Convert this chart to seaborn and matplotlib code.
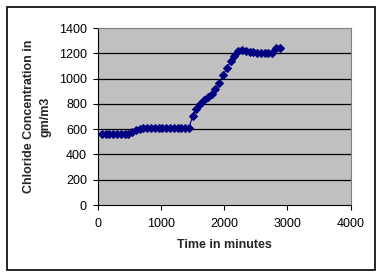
import matplotlib
matplotlib.use("Agg")
import matplotlib.pyplot as plt
import seaborn as sns
import pandas as pd
from matplotlib.patches import Rectangle

time_min = [60, 120, 180, 240, 300, 360, 420, 480, 540, 600, 660, 720, 780, 840,
            900, 960, 1020, 1080, 1140, 1200, 1260, 1320, 1380, 1440, 1500, 1560,
            1620, 1680, 1740, 1800, 1860, 1920, 1980, 2040, 2100, 2160, 2220, 2280,
            2340, 2400, 2460, 2520, 2580, 2640, 2700, 2760, 2820, 2880]
chloride = [560, 560, 560, 560, 560, 560, 560, 562, 578, 592, 602, 606, 607, 607,
            607, 607, 607, 607, 607, 607, 607, 607, 607, 607, 705, 761,
            798, 827, 856, 875, 919, 964, 1025, 1083, 1136, 1181, 1218, 1223,
            1220, 1213, 1210, 1205, 1202, 1202, 1202, 1202, 1239, 1242]

x_ticks = [0, 1000, 2000, 3000, 4000]
y_ticks = [0, 200, 400, 600, 800, 1000, 1200, 1400]

df = pd.DataFrame({"time": time_min, "cl": chloride})

sns.set_style("white")
plt.rcParams["font.family"] = ["Liberation Sans", "DejaVu Sans"]

fig = plt.figure(figsize=(3.85, 2.79), dpi=100)
fig.patches.append(Rectangle((7 / 385, 1 - 270 / 279), 368 / 385, 263 / 279,
                             transform=fig.transFigure, fill=False,
                             edgecolor="black", linewidth=1.2))
ax = fig.add_axes([98 / 385, 1 - 205 / 279, 252.5 / 385, 177 / 279])
ax.set_facecolor("#c0c0c0")

for yv in y_ticks[1:-1]:
    ax.axhline(yv, color="black", linewidth=0.9, zorder=1)

sns.lineplot(data=df, x="time", y="cl", ax=ax, color="#000080", linewidth=0.8,
             marker="D", markersize=3.8, markeredgecolor="#000080",
             markerfacecolor="#000080", zorder=3)

ax.set_xlim(0, 4000)
ax.set_ylim(0, 1400)
ax.set_xticks(x_ticks)
ax.set_yticks(y_ticks)
ax.tick_params(axis="both", labelsize=9, length=3.5, width=0.8, direction="out",
               colors="black")
ax.tick_params(axis="y", pad=4.5)
ax.tick_params(axis="x", pad=6)
ax.tick_params(left=True, bottom=True)

for side in ["top", "right"]:
    ax.spines[side].set_color("#808080")
    ax.spines[side].set_linewidth(0.8)
for side in ["left", "bottom"]:
    ax.spines[side].set_color("black")
    ax.spines[side].set_linewidth(0.8)

ax.set_xlabel("Time in minutes", fontsize=9, fontweight="bold", labelpad=6)
ax.set_ylabel("")
cy = 1 - 116.5 / 279
fig.text(29 / 385, cy, "Chloride Concentration in", rotation=90, fontsize=9,
         fontweight="bold", ha="center", va="center")
fig.text(45 / 385, cy, "gm/m3", rotation=90, fontsize=9,
         fontweight="bold", ha="center", va="center")

fig.savefig("out.png", dpi=100)
